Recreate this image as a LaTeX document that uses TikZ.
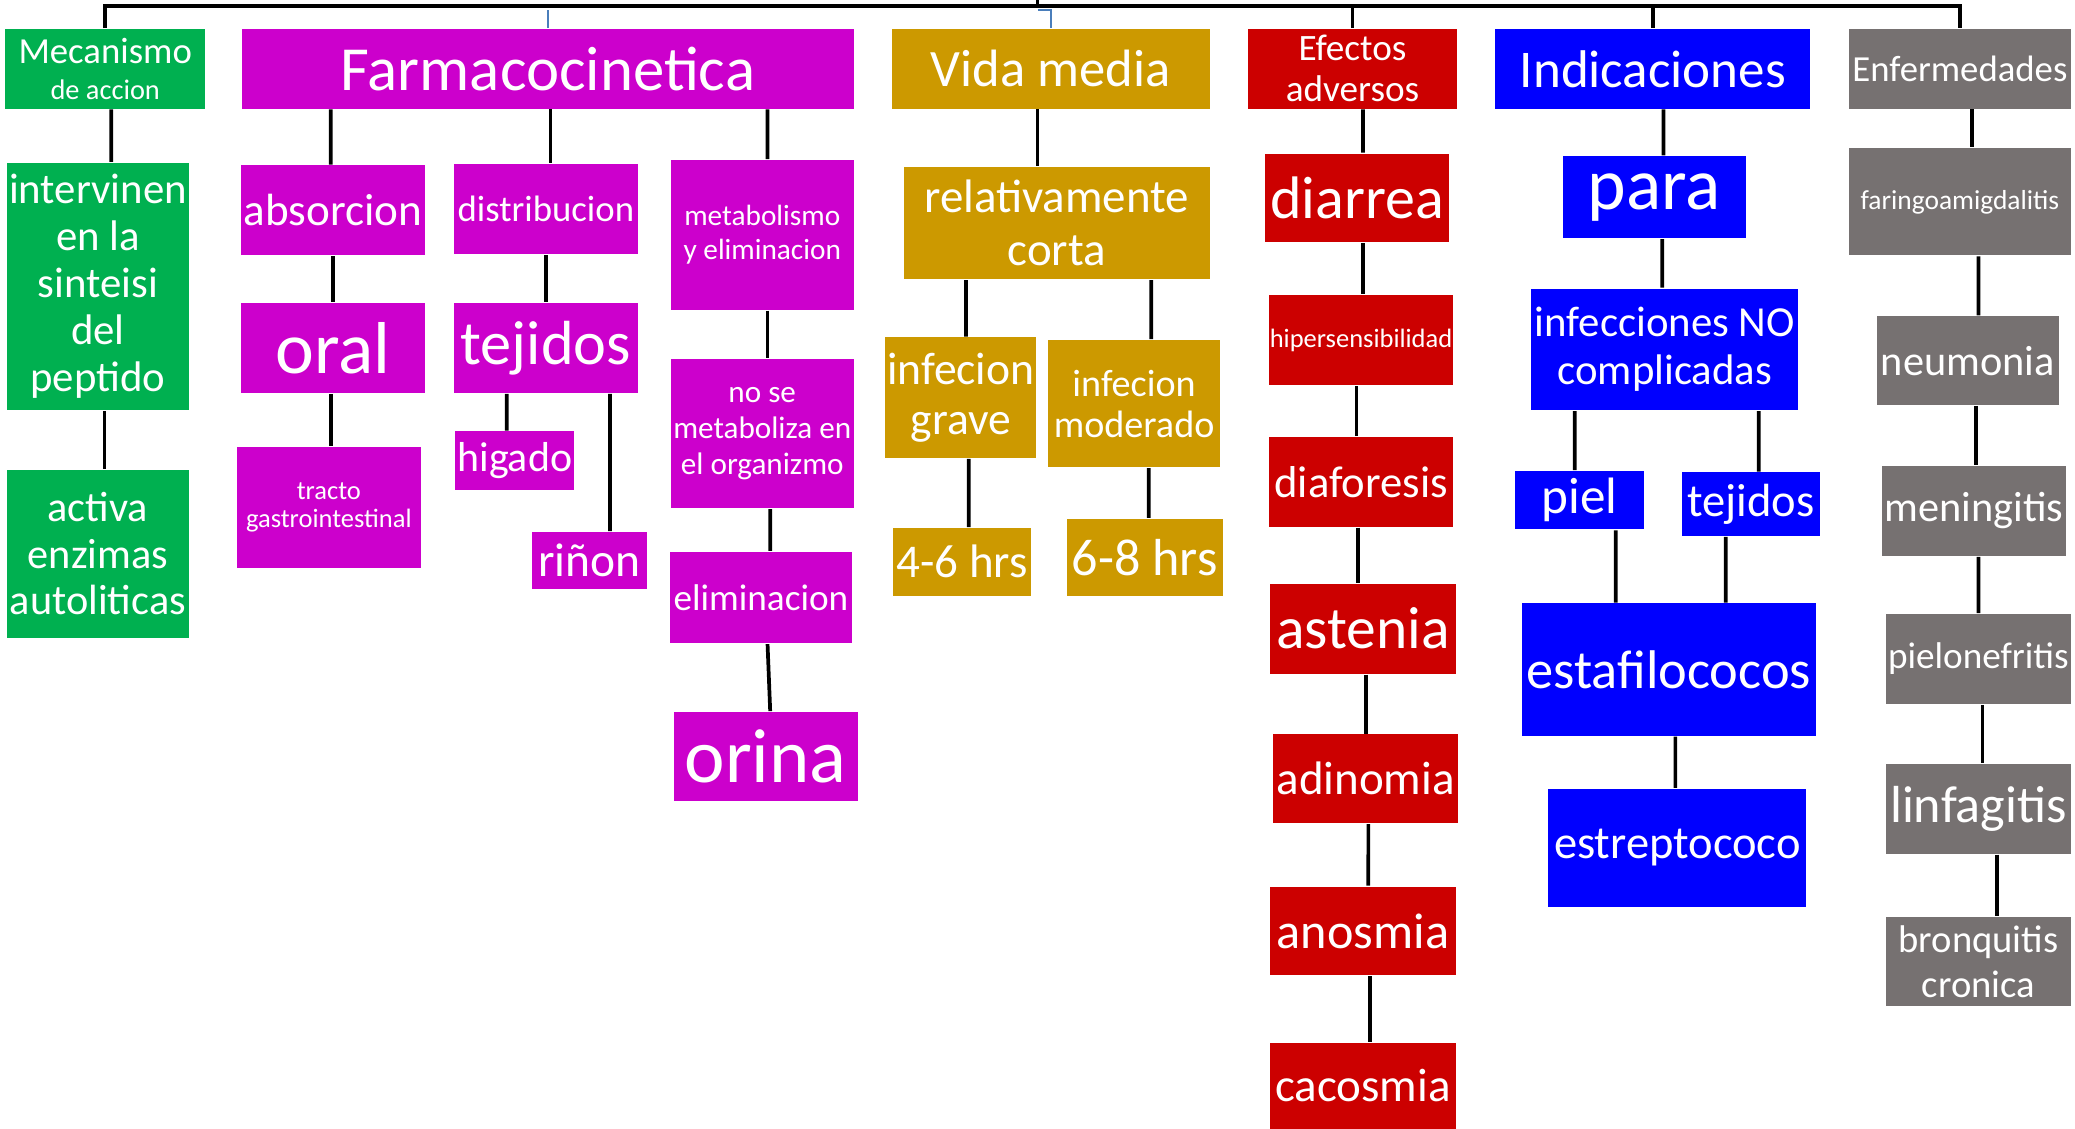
\documentclass[tikz,border=0pt]{standalone}
\usepackage{fontspec}
\setmainfont{Carlito}
\usepackage{tikz}
\usetikzlibrary{positioning}

\definecolor{verdeC}{HTML}{00B050}
\definecolor{magentaC}{HTML}{CC00CC}
\definecolor{oroC}{HTML}{CC9900}
\definecolor{rojoC}{HTML}{CC0000}
\definecolor{azulC}{HTML}{0000FF}
\definecolor{grisC}{HTML}{767171}
\definecolor{guiaC}{HTML}{4A7EBB}

\newcommand{\fz}[2]{\fontsize{#1}{#2}\selectfont}

\tikzset{
  caja/.style={rectangle, inner sep=0pt, align=center, text=white},
  verde/.style={caja, fill=verdeC},
  magenta/.style={caja, fill=magentaC},
  oro/.style={caja, fill=oroC},
  rojo/.style={caja, fill=rojoC},
  azul/.style={caja, fill=azulC},
  gris/.style={caja, fill=grisC},
  tam/.style 2 args={minimum width=#1cm, minimum height=#2cm},
  linea/.style={black, line width=0.8pt},
  guia/.style={guiaC, line width=0.5pt},
}

\begin{document}
\begin{tikzpicture}
\useasboundingbox (0,0) rectangle (15.68,-8.53);

% encabezados
\node[verde, tam={1.51}{0.60}, font=\fz{7.9}{8.7}] (mecanismo) at (0.795,-0.52) {Mecanismo\\[-1pt]{\fz{6.1}{7}de accion}};
\node[magenta, tam={4.62}{0.60}, font=\fz{13.5}{15}] (farmaco) at (4.14,-0.52) {Farmacocinetica};
\node[oro, tam={2.40}{0.60}, font=\fz{11.3}{12.5}] (vidamedia) at (7.94,-0.52) {Vida media};
\node[rojo, tam={1.58}{0.60}, font=\fz{8}{8.8}] (efectos) at (10.22,-0.52) {Efectos\\adversos};
\node[azul, tam={2.38}{0.60}, font=\fz{11.4}{12.5}] (indicaciones) at (12.49,-0.52) {Indicaciones};
\node[gris, tam={1.68}{0.60}, font=\fz{7.9}{8.7}] (enfermedades) at (14.81,-0.52) {Enfermedades};

% mecanismo de accion
\node[verde, tam={1.38}{1.87}, font=\fz{9.2}{10.1}] (intervinen) at (0.74,-2.165) {intervinen\\en la\\sinteisi\\del\\peptido};
\node[verde, tam={1.38}{1.27}, font=\fz{9.1}{10}] (activa) at (0.74,-4.185) {activa\\enzimas\\autoliticas};

% farmacocinetica
\node[magenta, tam={1.39}{0.68}, font=\fz{9.7}{10.7}] (absorcion) at (2.515,-1.59) {absorcion};
\node[magenta, tam={1.39}{0.68}, font=\fz{7.9}{8.7}] (distribucion) at (4.125,-1.58) {distribucion};
\node[magenta, tam={1.38}{1.13}, font=\fz{6.3}{7.4}] (metabolismo) at (5.76,-1.775) {metabolismo\\y eliminacion};
\node[magenta, tam={1.39}{0.68}, font=\fz{15.8}{17}] (oral) at (2.515,-2.63) {oral};
\node[magenta, tam={1.39}{0.91}, font=\fz{5.7}{6}] (tracto) at (2.485,-3.835) {tracto\\gastrointestinal};
\node[magenta, tam={1.39}{0.68}, font=\fz{13.4}{14.5}] (tejidos) at (4.125,-2.63) {tejidos};
\node[magenta, tam={0.90}{0.44}, font=\fz{9}{10}] (higado) at (3.89,-3.48) {higado};
\node[magenta, tam={0.87}{0.43}, font=\fz{10.2}{11}] (rinon) at (4.455,-4.235) {riñon};
\node[magenta, tam={1.38}{1.13}, font=\fz{6.7}{7.7}] (nose) at (5.76,-3.275) {no se\\metaboliza en\\el organizmo};
\node[magenta, tam={1.38}{0.69}, font=\fz{8}{8.8}] (eliminacion) at (5.75,-4.515) {eliminacion};
\node[magenta, tam={1.39}{0.67}, font=\fz{16.5}{18}] (orina) at (5.785,-5.715) {orina};

% vida media
\node[oro, tam={2.31}{0.85}, font=\fz{10.1}{11.4}] (relativa) at (7.985,-1.685) {relativamente\\corta};
\node[oro, tam={1.14}{0.91}, font=\fz{9.8}{10.8}] (grave) at (7.26,-3.005) {infecion\\grave};
\node[oro, tam={1.30}{0.96}, font=\fz{8.2}{8.8}] (moderado) at (8.57,-3.05) {infecion\\moderado};
\node[oro, tam={1.04}{0.51}, font=\fz{10.1}{11}] (horas46) at (7.27,-4.245) {4-6 hrs};
\node[oro, tam={1.18}{0.58}, font=\fz{11.2}{12}] (horas68) at (8.65,-4.21) {6-8 hrs};

% efectos adversos
\node[rojo, tam={1.39}{0.67}, font=\fz{12.9}{14}] (diarrea) at (10.255,-1.495) {diarrea};
\node[rojo, tam={1.39}{0.68}, font=\fz{5.7}{6.5}] (hiper) at (10.285,-2.57) {hipersensibilidad};
\node[rojo, tam={1.39}{0.68}, font=\fz{9.6}{10.5}] (diaforesis) at (10.285,-3.64) {diaforesis};
\node[rojo, tam={1.40}{0.68}, font=\fz{12.8}{14}] (astenia) at (10.30,-4.75) {astenia};
\node[rojo, tam={1.40}{0.67}, font=\fz{10.1}{11}] (adinomia) at (10.32,-5.885) {adinomia};
\node[rojo, tam={1.40}{0.67}, font=\fz{10.8}{12}] (anosmia) at (10.30,-7.035) {anosmia};
\node[rojo, tam={1.40}{0.65}, font=\fz{10.1}{11}] (cacosmia) at (10.30,-8.205) {cacosmia};

% indicaciones
\node[azul, tam={1.38}{0.62}, font=\fz{15.8}{17}] (para) at (12.50,-1.49) {para};
\node[azul, tam={2.02}{0.92}, font=\fz{9.2}{10.2}] (infecciones) at (12.58,-2.64) {infecciones NO\\complicadas};
\node[azul, tam={0.97}{0.44}, font=\fz{11}{12}] (piel) at (11.935,-3.78) {piel};
\node[azul, tam={1.04}{0.48}, font=\fz{10}{11}] (tejidosb) at (13.23,-3.81) {tejidos};
\node[azul, tam={2.22}{1.00}, font=\fz{11.7}{13}] (estafilo) at (12.61,-5.06) {estafilococos};
\node[azul, tam={1.95}{0.89}, font=\fz{10}{11}] (estrepto) at (12.675,-6.405) {estreptococo};

% enfermedades
\node[gris, tam={1.68}{0.81}, font=\fz{5.9}{6.5}] (faringo) at (14.81,-1.525) {faringoamigdalitis};
\node[gris, tam={1.38}{0.67}, font=\fz{9.1}{10}] (neumonia) at (14.87,-2.725) {neumonia};
\node[gris, tam={1.39}{0.68}, font=\fz{9.1}{10}] (meningitis) at (14.915,-3.86) {meningitis};
\node[gris, tam={1.40}{0.68}, font=\fz{8}{9}] (pielo) at (14.95,-4.98) {pielonefritis};
\node[gris, tam={1.40}{0.68}, font=\fz{11.2}{12}] (linfagitis) at (14.95,-6.11) {linfagitis};
\node[gris, tam={1.40}{0.67}, font=\fz{8.3}{9.7}] (bronquitis) at (14.95,-7.265) {bronquitis\\cronica};

% barra superior
\coordinate (raiz) at (7.84,0.05);
\draw[linea] (raiz) -- ++(0,-0.10);
\draw[linea] (mecanismo.north) -- ++(0,0.17) -| (enfermedades.north);
\draw[linea] (efectos.north) -- ++(0,0.17);
\draw[linea] (indicaciones.north) -- ++(0,0.17);
\draw[guia] (farmaco.north) -- ++(0,0.14);
\draw[guia] (vidamedia.north) -- ++(0,0.14) -- ++(-0.10,0);

% conectores
\draw[linea] ([xshift=0.045cm]mecanismo.south) -- ([xshift=0.10cm]intervinen.north);
\draw[linea] ([xshift=0.05cm]intervinen.south) -- ([xshift=0.05cm]activa.north);

\draw[linea] ([xshift=-1.64cm]farmaco.south) -- ([xshift=-0.015cm]absorcion.north);
\draw[linea] ([xshift=0.02cm]farmaco.south) -- ([xshift=0.035cm]distribucion.north);
\draw[linea] ([xshift=1.66cm]farmaco.south) -- ([xshift=0.04cm]metabolismo.north);
\draw[linea] (absorcion) -- (oral);
\draw[linea] ([xshift=-0.015cm]oral.south) -- ([xshift=0.015cm]tracto.north);
\draw[linea] (distribucion) -- (tejidos);
\draw[linea] ([xshift=-0.295cm]tejidos.south) -- ([xshift=-0.06cm]higado.north);
\draw[linea] ([xshift=0.485cm]tejidos.south) -- ([xshift=0.155cm]rinon.north);
\draw[linea] ([xshift=0.04cm]metabolismo.south) -- ([xshift=0.04cm]nose.north);
\draw[linea] ([xshift=0.06cm]nose.south) -- ([xshift=0.07cm]eliminacion.north);
\draw[linea] ([xshift=0.05cm]eliminacion.south) -- ([xshift=0.035cm]orina.north);

\draw[linea] ([xshift=-0.10cm]vidamedia.south) -- ([xshift=-0.145cm]relativa.north);
\draw[linea] ([xshift=-0.685cm]relativa.south) -- ([xshift=0.04cm]grave.north);
\draw[linea] ([xshift=0.715cm]relativa.south) -- ([xshift=0.13cm]moderado.north);
\draw[linea] ([xshift=0.06cm]grave.south) -- ([xshift=0.05cm]horas46.north);
\draw[linea] ([xshift=0.11cm]moderado.south) -- ([xshift=0.03cm]horas68.north);

\draw[linea] ([xshift=0.08cm]efectos.south) -- ([xshift=0.045cm]diarrea.north);
\draw[linea] ([xshift=0.045cm]diarrea.south) -- ([xshift=0.015cm]hiper.north);
\draw[linea] ([xshift=-0.035cm]hiper.south) -- ([xshift=-0.035cm]diaforesis.north);
\draw[linea] ([xshift=-0.025cm]diaforesis.south) -- ([xshift=-0.04cm]astenia.north);
\draw[linea] ([xshift=0.02cm]astenia.south) -- (adinomia.north);
\draw[linea] ([xshift=0.02cm]adinomia.south) -- ([xshift=0.04cm]anosmia.north);
\draw[linea] ([xshift=0.05cm]anosmia.south) -- ([xshift=0.05cm]cacosmia.north);

\draw[linea] ([xshift=0.08cm]indicaciones.south) -- ([xshift=0.07cm]para.north);
\draw[linea] ([xshift=0.06cm]para.south) -- ([xshift=-0.02cm]infecciones.north);
\draw[linea] ([xshift=-0.68cm]infecciones.south) -- ([xshift=-0.035cm]piel.north);
\draw[linea] ([xshift=0.71cm]infecciones.south) -- ([xshift=0.06cm]tejidosb.north);
\draw[linea] ([xshift=0.275cm]piel.south) -- ([xshift=-0.40cm]estafilo.north);
\draw[linea] ([xshift=-0.19cm]tejidosb.south) -- ([xshift=0.43cm]estafilo.north);
\draw[linea] ([xshift=0.05cm]estafilo.south) -- ([xshift=-0.015cm]estrepto.north);

\draw[linea] ([xshift=0.09cm]enfermedades.south) -- ([xshift=0.09cm]faringo.north);
\draw[linea] ([xshift=0.14cm]faringo.south) -- ([xshift=0.08cm]neumonia.north);
\draw[linea] ([xshift=0.06cm]neumonia.south) -- ([xshift=0.015cm]meningitis.north);
\draw[linea] ([xshift=0.035cm]meningitis.south) -- (pielo.north);
\draw[linea] ([xshift=0.03cm]pielo.south) -- ([xshift=0.03cm]linfagitis.north);
\draw[linea] ([xshift=0.14cm]linfagitis.south) -- ([xshift=0.14cm]bronquitis.north);
\end{tikzpicture}
\end{document}
